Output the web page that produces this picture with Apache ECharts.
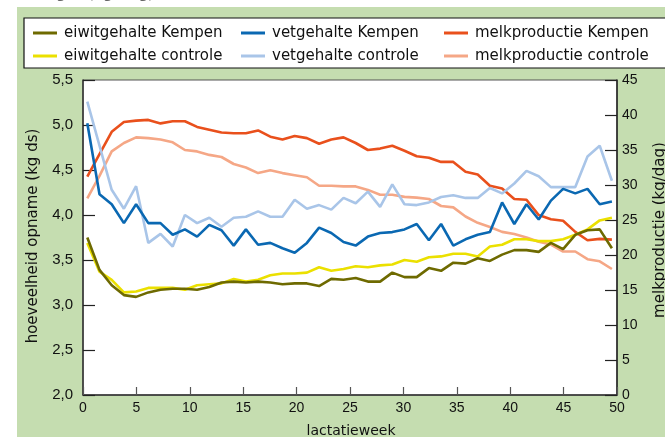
<!DOCTYPE html>
<html>
<head>
<meta charset="utf-8">
<script src="https://cdn.jsdelivr.net/npm/echarts@6/dist/echarts.min.js"></script>
<style>
html, body { margin: 0; padding: 0; background: #fff; }
#groen { position: absolute; left: 17px; top: 7px; width: 660px; height: 440px; background: #c5ddb0; }
#chart { position: absolute; left: 0; top: 0; width: 665px; height: 437px; }
</style>
</head>
<body>
<div id="groen"></div>
<div id="chart"></div>
<script>
var eiwitKempen = [3.75, 3.39, 3.22, 3.11, 3.09, 3.14, 3.17, 3.18, 3.18, 3.17, 3.20, 3.25, 3.26, 3.25, 3.26, 3.25, 3.23, 3.24, 3.24, 3.21, 3.29, 3.28,
                   3.30, 3.26, 3.26, 3.36, 3.31, 3.31, 3.41, 3.38, 3.47, 3.46, 3.52, 3.49, 3.56, 3.61, 3.61, 3.59, 3.69, 3.62, 3.78, 3.83, 3.84, 3.63];
var eiwitControle = [3.69, 3.37, 3.28, 3.14, 3.15, 3.19, 3.19, 3.19, 3.17, 3.22, 3.23, 3.24, 3.29, 3.26, 3.28, 3.33, 3.35, 3.35, 3.36, 3.42, 3.38, 3.40,
                     3.43, 3.42, 3.44, 3.45, 3.50, 3.48, 3.53, 3.54, 3.57, 3.57, 3.54, 3.65, 3.67, 3.73, 3.73, 3.71, 3.71, 3.73, 3.78, 3.84, 3.94, 3.97];
var vetKempen = [5.02, 4.23, 4.12, 3.91, 4.12, 3.91, 3.91, 3.78, 3.84, 3.76, 3.89, 3.83, 3.66, 3.84, 3.67, 3.69, 3.63, 3.58, 3.69, 3.86, 3.80, 3.70,
                 3.66, 3.76, 3.80, 3.81, 3.84, 3.90, 3.72, 3.90, 3.66, 3.73, 3.78, 3.81, 4.14, 3.90, 4.12, 3.95, 4.16, 4.29, 4.24, 4.29, 4.12, 4.15];
var vetControle = [5.26, 4.77, 4.28, 4.07, 4.32, 3.69, 3.79, 3.65, 4.00, 3.91, 3.97, 3.87, 3.97, 3.98, 4.04, 3.98, 3.98, 4.17, 4.07, 4.11, 4.06, 4.19,
                   4.13, 4.26, 4.09, 4.34, 4.12, 4.11, 4.14, 4.20, 4.22, 4.19, 4.19, 4.30, 4.24, 4.35, 4.49, 4.43, 4.31, 4.31, 4.31, 4.65, 4.77, 4.38];
var melkKempen = [31.2, 34.4, 37.6, 39.0, 39.2, 39.3, 38.8, 39.1, 39.1, 38.3, 37.9, 37.5, 37.4, 37.4, 37.8, 36.9, 36.5, 37.0, 36.7, 35.9, 36.5, 36.8,
                  36.0, 35.0, 35.2, 35.6, 34.9, 34.1, 33.9, 33.3, 33.3, 31.9, 31.5, 29.9, 29.5, 28.0, 27.9, 25.7, 25.1, 24.9, 23.3, 22.1, 22.3, 22.2];
var melkControle = [28.1, 31.3, 34.8, 36.0, 36.8, 36.7, 36.5, 36.1, 35.0, 34.8, 34.3, 34.0, 33.0, 32.5, 31.7, 32.1, 31.7, 31.4, 31.1, 29.9, 29.9, 29.8,
                    29.8, 29.3, 28.6, 28.6, 28.3, 28.2, 28.0, 27.0, 26.8, 25.5, 24.6, 24.0, 23.3, 23.0, 22.5, 21.9, 21.5, 20.5, 20.5, 19.4, 19.1, 18.0];

var meetpunten = eiwitKempen.map(function (v, i) { return i + 1; });
var weekLabels = ['0', '5', '10', '15', '20', '25', '30', '35', '40', '45', '50'];
var opnameLabels = ['2,0', '2,5', '3,0', '3,5', '4,0', '4,5', '5,0', '5,5'];
var melkLabels = ['0', '5', '10', '15', '20', '25', '30', '35', '40', '45'];

var kleuren = {
    eiwitKempen: '#6e6a00',
    eiwitControle: '#ebe000',
    vetKempen: '#0a68b2',
    vetControle: '#a9c5e8',
    melkKempen: '#e9501c',
    melkControle: '#f5a786'
};

var tekst = 'DejaVu Sans';
var cijfers = 'Liberation Sans';

function lijn(naam, data, kleur, yIndex) {
    return {
        name: naam,
        type: 'line',
        xAxisIndex: 1,
        yAxisIndex: yIndex,
        data: data,
        color: kleur,
        symbol: 'none',
        lineStyle: { width: 2.6, color: kleur },
        silent: true
    };
}

function legenda(links, namen) {
    return {
        orient: 'vertical',
        left: links,
        top: 24,
        padding: 0,
        itemGap: 5,
        itemWidth: 24,
        itemHeight: 3,
        icon: 'rect',
        selectedMode: false,
        data: namen,
        textStyle: { fontFamily: tekst, fontSize: 15, color: '#111', lineHeight: 18, padding: [0, 0, 0, 2] }
    };
}

var option = {
    animation: false,
    graphic: [
        { type: 'rect', shape: { x: 24, y: 18, width: 660, height: 50 },
          style: { fill: '#fff', stroke: '#111', lineWidth: 1.2 } },
        { type: 'text', x: 18, y: 2,
          style: { text: 'melkgift (kg/dag)', font: 'italic 16px "DejaVu Sans"', fill: '#666', textVerticalAlign: 'bottom' } },
        { type: 'text', x: 33, y: 236, rotation: Math.PI / 2,
          style: { text: 'hoeveelheid opname (kg ds)', font: '15px "DejaVu Sans"', fill: '#111', textAlign: 'center', textVerticalAlign: 'middle' } },
        { type: 'text', x: 660, y: 230, rotation: Math.PI / 2,
          style: { text: 'melkproductie (kg/dag)', font: '15px "DejaVu Sans"', fill: '#111', textAlign: 'center', textVerticalAlign: 'middle' } },
        { type: 'text', x: 351, y: 431,
          style: { text: 'lactatieweek', font: '14px "DejaVu Sans"', fill: '#111', textAlign: 'center', textVerticalAlign: 'middle' } }
    ],
    legend: [
        legenda(33, ['eiwitgehalte Kempen', 'eiwitgehalte controle']),
        legenda(241, ['vetgehalte Kempen', 'vetgehalte controle']),
        legenda(444, ['melkproductie Kempen', 'melkproductie controle'])
    ],
    grid: [
        { left: 83, top: 80, width: 534, height: 315, show: true, backgroundColor: '#fff', borderColor: '#555', borderWidth: 1 },
        { left: 87.3, top: 80, width: 524.6, height: 315 }
    ],
    xAxis: [
        {
            gridIndex: 0, type: 'value', min: 0, max: 50, interval: 5,
            axisLine: { show: true, lineStyle: { color: '#333', width: 1.5 } },
            axisTick: { inside: true, length: 8, lineStyle: { color: '#555', width: 1.2 } },
            axisLabel: { margin: 6, fontFamily: cijfers, fontSize: 14, color: '#111',
                         formatter: function (v) { return weekLabels[Math.round(v / 5)]; } },
            splitLine: { show: false }
        },
        {
            gridIndex: 1, type: 'category', data: meetpunten, boundaryGap: false, show: false
        }
    ],
    yAxis: [
        {
            gridIndex: 0, type: 'value', position: 'left', min: 2, max: 5.5, interval: 0.5,
            axisLine: { show: true, lineStyle: { color: '#333', width: 1.5 } },
            axisTick: { show: true, inside: true, length: 12, lineStyle: { color: '#222', width: 1.2 } },
            axisLabel: { margin: 10, fontFamily: cijfers, fontSize: 15, color: '#111',
                         formatter: function (v) { return opnameLabels[Math.round((v - 2) / 0.5)]; } },
            splitLine: { show: false }
        },
        {
            gridIndex: 0, type: 'value', position: 'right', min: 0, max: 45, interval: 5,
            axisLine: { show: true, lineStyle: { color: '#222', width: 1.5 } },
            axisTick: { show: true, inside: true, length: 12, lineStyle: { color: '#222', width: 1.2 } },
            axisLabel: { margin: 5, fontFamily: cijfers, fontSize: 14, color: '#111',
                         formatter: function (v) { return melkLabels[Math.round(v / 5)]; } },
            splitLine: { show: false }
        },
        { gridIndex: 1, type: 'value', min: 2, max: 5.5, show: false },
        { gridIndex: 1, type: 'value', min: 0, max: 45, show: false }
    ],
    series: [
        lijn('melkproductie controle', melkControle, kleuren.melkControle, 3),
        lijn('melkproductie Kempen', melkKempen, kleuren.melkKempen, 3),
        lijn('vetgehalte controle', vetControle, kleuren.vetControle, 2),
        lijn('vetgehalte Kempen', vetKempen, kleuren.vetKempen, 2),
        lijn('eiwitgehalte controle', eiwitControle, kleuren.eiwitControle, 2),
        lijn('eiwitgehalte Kempen', eiwitKempen, kleuren.eiwitKempen, 2)
    ]
};

var grafiek = echarts.init(document.getElementById('chart'));
grafiek.setOption(option);
</script>
</body>
</html>
